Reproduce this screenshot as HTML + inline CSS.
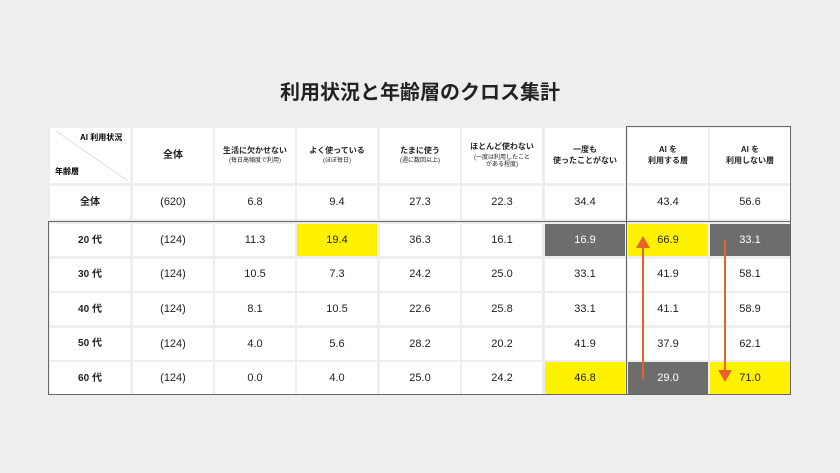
<!DOCTYPE html><html><head><meta charset="utf-8"><style>
body{margin:0;width:840px;height:473px;background:#eeeeee;font-family:"Liberation Sans","Noto Sans CJK JP",sans-serif;position:relative;overflow:hidden}
.t{position:absolute;left:0;width:840px;top:76px;text-align:center;font-size:20px;font-weight:bold;color:#222}
.c{position:absolute;background:#fff;display:flex;align-items:center;justify-content:center;text-align:center;font-size:11px;color:#222;line-height:1.3}
.h{font-size:8px;font-weight:bold}
.s{font-size:6px;display:block;font-weight:normal;margin-top:2px;line-height:1.2}
.y{background:#fff200}.d{background:#6d6d6d;color:#fff}
.box{position:absolute;border:1.5px solid #666;box-sizing:border-box}
</style></head><body>
<div class="t">利用状況と年齢層のクロス集計</div>
<div id="g"></div>
<div class="box" style="left:48px;top:221px;width:743px;height:174px"></div>
<div class="box" style="left:626px;top:126px;width:165px;height:269px"></div>
<svg style="position:absolute;left:0;top:0" width="840" height="473">
<line x1="56" y1="131" x2="128" y2="181" stroke="#ddd" stroke-width="1"/>
<line x1="643" y1="380" x2="643" y2="246" stroke="#e8622a" stroke-width="2"/>
<polygon points="636,248 650,248 643,236" fill="#e8622a"/>
<line x1="725" y1="240" x2="725" y2="372" stroke="#e8622a" stroke-width="2"/>
<polygon points="718,370 732,370 725,382" fill="#e8622a"/>
</svg>
<script>
var X=[50,133,215,297,380,462,545,628,710],W=80;
var hdr=['','全体','生活に欠かせない<span class="s">(毎日高頻度で利用)</span>','よく使っている<span class="s">(ほぼ毎日)</span>','たまに使う<span class="s">(週に数回以上)</span>','ほとんど使わない<span class="s">(一度は利用したこと<br>がある程度)</span>','一度も<br>使ったことがない','AI を<br>利用する層','AI を<br>利用しない層'];
var rows=[['全体','(620)','6.8','9.4','27.3','22.3','34.4','43.4','56.6'],
['20 代','(124)','11.3','19.4','36.3','16.1','16.9','66.9','33.1'],
['30 代','(124)','10.5','7.3','24.2','25.0','33.1','41.9','58.1'],
['40 代','(124)','8.1','10.5','22.6','25.8','33.1','41.1','58.9'],
['50 代','(124)','4.0','5.6','28.2','20.2','41.9','37.9','62.1'],
['60 代','(124)','0.0','4.0','25.0','24.2','46.8','29.0','71.0']];
var Y=[186,224,258.6,293.2,327.8,362.4],H=[33,32,32,32,32,32];
var cls={'1,3':'y','1,6':'d','1,7':'y','1,8':'d','5,6':'y','5,7':'d','5,8':'y'};
var h='';
for(var j=0;j<9;j++){var fs=j==1?'font-size:10px;':'';h+='<div class="c h" style="'+fs+'left:'+X[j]+'px;top:128px;width:'+W+'px;height:55px"><div>'+hdr[j]+'</div></div>';}
h+='<div style="position:absolute;left:80px;top:132px;font-size:8px;font-weight:bold">AI 利用状況</div><div style="position:absolute;left:55px;top:166px;font-size:8px;font-weight:bold">年齢層</div>';
for(var i=0;i<6;i++)for(var j=0;j<9;j++){var k=cls[(i)+','+j]||'';var fw=j==0?'font-weight:bold;font-size:10px;':'';
h+='<div class="c '+k+'" style="'+fw+'left:'+X[j]+'px;top:'+Y[i]+'px;width:'+W+'px;height:'+H[i]+'px">'+rows[i][j]+'</div>';}
document.getElementById('g').innerHTML=h;
</script>
</body></html>
